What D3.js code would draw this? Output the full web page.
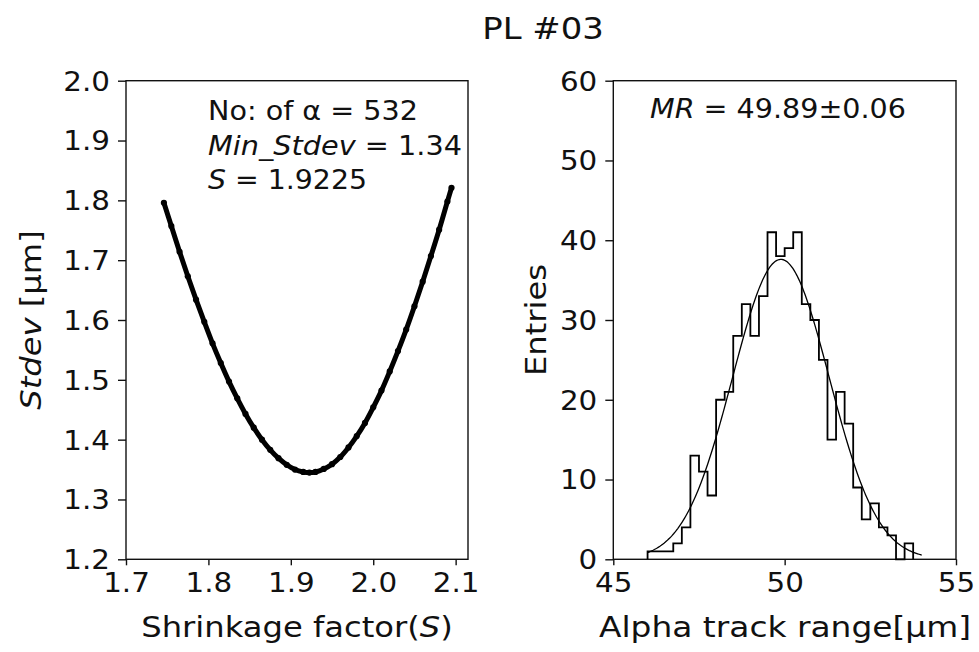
<!DOCTYPE html>
<html>
<head>
<meta charset="utf-8">
<script src="https://cdn.jsdelivr.net/npm/d3@7"></script>
<style>
  html, body { margin: 0; padding: 0; background: #fff; }
  svg { display: block; }
  text { font-family: "DejaVu Sans", sans-serif; fill: #111; }
</style>
</head>
<body>
<svg id="fig" width="979" height="652"></svg>
<script>
// ---- Left panel: standard deviation vs shrinkage factor ----
const shrinkS = [1.746, 1.755, 1.765, 1.775, 1.785, 1.795, 1.805, 1.815, 1.825, 1.835,
                 1.845, 1.855, 1.865, 1.875, 1.885, 1.895, 1.905, 1.915, 1.9225, 1.930,
                 1.940, 1.950, 1.960, 1.970, 1.980, 1.990, 2.000, 2.010, 2.020, 2.030,
                 2.040, 2.050, 2.060, 2.070, 2.080, 2.090, 2.095];
const stdevVals = [1.796, 1.757, 1.714, 1.673, 1.634, 1.597, 1.561, 1.528, 1.497, 1.469,
                   1.443, 1.420, 1.400, 1.383, 1.369, 1.358, 1.350, 1.346, 1.345, 1.346,
                   1.351, 1.359, 1.371, 1.387, 1.406, 1.428, 1.454, 1.482, 1.514, 1.548,
                   1.584, 1.623, 1.664, 1.707, 1.751, 1.798, 1.821];
const leftXTicks = [1.7, 1.8, 1.9, 2.0, 2.1];
const leftYTicks = [1.2, 1.3, 1.4, 1.5, 1.6, 1.7, 1.8, 1.9, 2.0];

// ---- Right panel: alpha track range histogram ----
const binEdges = [46.00, 46.25, 46.50, 46.75, 47.00, 47.25, 47.50, 47.75, 48.00, 48.25,
                  48.50, 48.75, 49.00, 49.25, 49.50, 49.75, 50.00, 50.25, 50.50, 50.75,
                  51.00, 51.25, 51.50, 51.75, 52.00, 52.25, 52.50, 52.75, 53.00, 53.25,
                  53.50, 53.75];
const binCounts = [1, 1, 1, 2, 4, 13, 11, 8, 20, 21,
                   28, 32, 28, 33, 41, 38, 39, 41, 32, 30,
                   25, 15, 21, 17, 9, 5, 7, 4, 3, 0, 2];
const rightXTicks = [45, 50, 55];
const rightYTicks = [0, 10, 20, 30, 40, 50, 60];

// Gaussian fit to the histogram
const fitMean = 49.89, fitSigma = 1.41, fitAmp = 37.6;
const fitRange = [46, 54];

const svg = d3.select('#fig');
const SX = 1.13; // horizontal stretch applied to all glyphs

function addText(parent, x, y, size, anchor, parts, rotate, width) {
  const t = parent.append('text')
    .attr('transform', `translate(${x},${y})` + (rotate ? ' rotate(-90)' : '') + ` scale(${SX},1)`)
    .attr('font-size', size)
    .attr('text-anchor', anchor);
  if (width) t.attr('textLength', width / SX).attr('lengthAdjust', 'spacingAndGlyphs');
  parts.forEach(p => {
    const s = t.append('tspan').text(p.t);
    if (p.i) s.attr('font-style', 'italic');
  });
  return t;
}

// axes boxes
const plotTop = 80.7, plotBottom = 559.3;
const L = { x0: 126, x1: 468 };
const R = { x0: 613.3, x1: 956 };

const xL = d3.scaleLinear().domain([1.7, 2.115]).range([L.x0, L.x1]);
const yL = d3.scaleLinear().domain([1.2, 2.0]).range([plotBottom, plotTop]);
const xR = d3.scaleLinear().domain([45, 55]).range([R.x0, R.x1]);
const yR = d3.scaleLinear().domain([0, 60]).range([plotBottom, plotTop]);

function frame(box) {
  svg.append('rect')
    .attr('x', box.x0).attr('y', plotTop)
    .attr('width', box.x1 - box.x0).attr('height', plotBottom - plotTop)
    .attr('fill', 'none').attr('stroke', '#111').attr('stroke-width', 1.4);
}

function axes(xs, ys, xt, yt, xfmt, yfmt) {
  const gx = svg.append('g').attr('transform', `translate(0,${plotBottom})`)
    .call(d3.axisBottom(xs).tickValues(xt).tickSize(6).tickPadding(6).tickFormat(xfmt));
  const gy = svg.append('g').attr('transform', `translate(${xs.range()[0]},0)`)
    .call(d3.axisLeft(ys).tickValues(yt).tickSize(8).tickPadding(8).tickFormat(yfmt));
  [gx, gy].forEach(g => {
    g.select('.domain').remove();
    g.selectAll('.tick line').attr('stroke', '#111').attr('stroke-width', 1.4);
    g.selectAll('.tick text').attr('font-size', 26).attr('fill', '#111')
      .attr('font-family', '"DejaVu Sans", sans-serif');
  });
  gx.selectAll('.tick text').attr('dy', '0.78em')
    .each(function () { const s = d3.select(this); const y = +s.attr('y'); s.attr('transform', `translate(0,${y}) scale(${SX},1) translate(0,${-y})`); });
  gy.selectAll('.tick text').attr('dy', '0.36em')
    .each(function () { const s = d3.select(this); const x = +s.attr('x'); s.attr('transform', `translate(${x},0) scale(${SX},1) translate(${-x},0)`); });
}

// ----- left panel -----
frame(L);
axes(xL, yL, leftXTicks, leftYTicks, d3.format('.1f'), d3.format('.1f'));

const stdevPts = shrinkS.map((s, i) => [s, stdevVals[i]]);
svg.append('path')
  .datum(stdevPts)
  .attr('d', d3.line().x(d => xL(d[0])).y(d => yL(d[1])).curve(d3.curveCatmullRom))
  .attr('fill', 'none').attr('stroke', '#000').attr('stroke-width', 5)
  .attr('stroke-linecap', 'round').attr('stroke-linejoin', 'round');
svg.append('g').selectAll('circle')
  .data(stdevPts).join('circle')
  .attr('cx', d => xL(d[0])).attr('cy', d => yL(d[1])).attr('r', 3.1)
  .attr('fill', '#000');

addText(svg, 208, 120, 26, 'start', [{ t: 'No: of α = 532' }], false, 210);
addText(svg, 208, 154.5, 26, 'start', [{ t: 'Min_Stdev', i: true }, { t: ' = 1.34' }], false, 254);
addText(svg, 208, 188.5, 26, 'start', [{ t: 'S', i: true }, { t: ' = 1.9225' }], false, 159);

addText(svg, 297, 637, 28.5, 'middle', [{ t: 'Shrinkage factor(' }, { t: 'S', i: true }, { t: ')' }]);
addText(svg, 41, 320, 28.5, 'middle', [{ t: 'Stdev', i: true }, { t: ' [μm]' }], true);

// ----- right panel -----
frame(R);
axes(xR, yR, rightXTicks, rightYTicks, d3.format('d'), d3.format('d'));

const stepPts = [[binEdges[0], 0]];
binCounts.forEach((c, i) => { stepPts.push([binEdges[i], c]); stepPts.push([binEdges[i + 1], c]); });
stepPts.push([binEdges[binEdges.length - 1], 0]);
svg.append('path')
  .datum(stepPts)
  .attr('d', d3.line().x(d => xR(d[0])).y(d => yR(d[1])))
  .attr('fill', 'none').attr('stroke', '#000').attr('stroke-width', 1.8)
  .attr('stroke-linejoin', 'miter');

const fitPts = d3.range(0, 201).map(k => {
  const x = fitRange[0] + (fitRange[1] - fitRange[0]) * k / 200;
  return [x, fitAmp * Math.exp(-0.5 * ((x - fitMean) / fitSigma) ** 2)];
});
svg.append('path')
  .datum(fitPts)
  .attr('d', d3.line().x(d => xR(d[0])).y(d => yR(d[1])))
  .attr('fill', 'none').attr('stroke', '#000').attr('stroke-width', 1.3);

addText(svg, 650, 118.3, 26, 'start', [{ t: 'MR', i: true }, { t: ' = 49.89±0.06' }], false, 256);

addText(svg, 785, 637, 28.5, 'middle', [{ t: 'Alpha track range[μm]' }], false, 372);
addText(svg, 546, 320, 28.5, 'middle', [{ t: 'Entries' }], true);

// ----- title -----
addText(svg, 543, 39, 30, 'middle', [{ t: 'PL #03' }]);
</script>
</body>
</html>
